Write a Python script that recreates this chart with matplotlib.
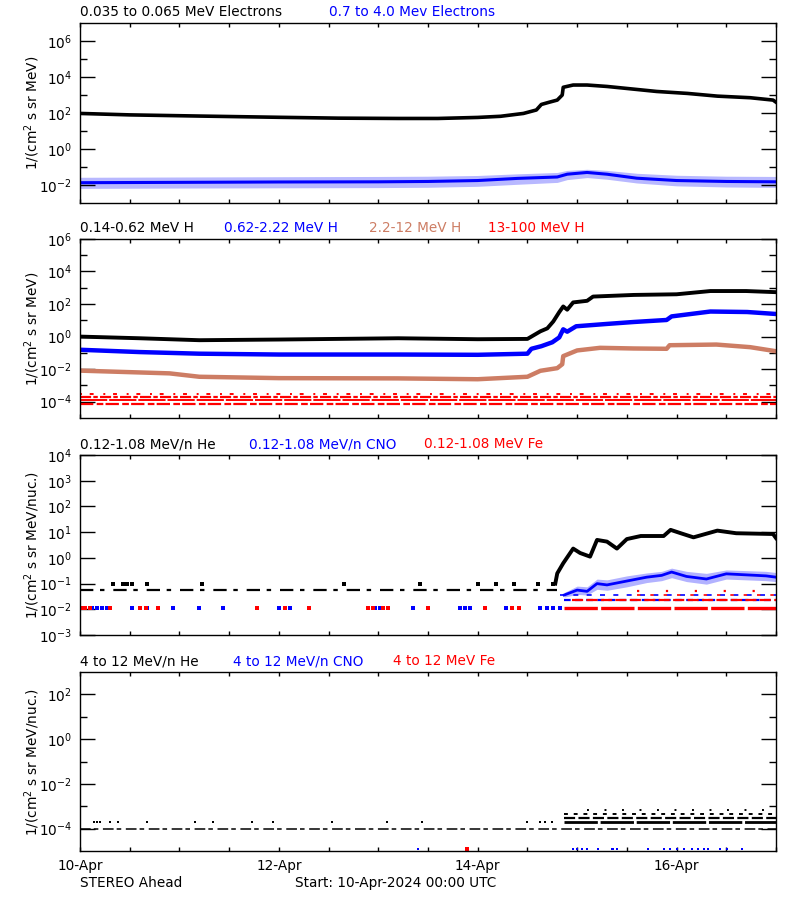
import matplotlib
matplotlib.use('Agg')
import matplotlib.pyplot as plt
from matplotlib.ticker import FixedLocator, FuncFormatter, NullFormatter
import numpy as np

# time axis: days after 10-Apr-2024 00:00 UTC
day_ticks = [0, 2, 4, 6]
day_labels = ['10-Apr', '12-Apr', '14-Apr', '16-Apr']

# ---- panel 1 : electrons
t_elo = [0, 0.5, 1.2, 2.0, 2.6, 3.2, 3.6, 4.0, 4.23, 4.46, 4.59, 4.64, 4.72, 4.80, 4.85,
         4.86, 4.96, 5.10, 5.30, 5.56, 5.80, 6.11, 6.41, 6.74, 6.97, 7.0]
f_elo = [95, 79, 68, 58, 52, 50, 50, 57, 66, 95, 148, 300, 400, 525, 1000,
         2700, 3600, 3600, 3000, 2150, 1580, 1230, 870, 710, 525, 400]
t_ehi = [0, 1, 2, 3, 3.5, 4.0, 4.4, 4.8, 4.9, 5.1, 5.3, 5.6, 6.0, 6.5, 7.0]
f_ehi = [0.0135, 0.0141, 0.0148, 0.0151, 0.0158, 0.0178, 0.0234, 0.028, 0.040, 0.050,
         0.040, 0.024, 0.0178, 0.0158, 0.0151]
f_ehi_top = [0.027, 0.028, 0.029, 0.030, 0.031, 0.034, 0.042, 0.050, 0.065, 0.075,
             0.065, 0.045, 0.035, 0.031, 0.030]
f_ehi_bot = [0.0065, 0.0068, 0.0070, 0.0072, 0.0075, 0.0085, 0.011, 0.014, 0.020, 0.026,
             0.021, 0.013, 0.009, 0.0078, 0.0074]

# ---- panel 2 : protons
t_h1 = [0, 0.6, 1.2, 2.0, 3.2, 4.0, 4.5, 4.63, 4.70, 4.76, 4.82, 4.86, 4.90, 4.96,
        5.10, 5.16, 5.57, 6.0, 6.34, 6.7, 7.0]
f_h1 = [1.0, 0.79, 0.60, 0.66, 0.79, 0.69, 0.72, 2.1, 3.2, 8.5, 32, 71, 45, 126,
        158, 288, 363, 398, 630, 630, 537]
t_h2 = [0, 0.6, 1.2, 2.0, 3.2, 4.0, 4.5, 4.54, 4.64, 4.75, 4.82, 4.86, 4.90, 4.99,
        5.3, 5.57, 5.9, 5.95, 6.34, 6.71, 7.0]
f_h2 = [0.155, 0.112, 0.089, 0.079, 0.079, 0.076, 0.089, 0.178, 0.257, 0.447, 0.89,
        2.8, 2.0, 4.3, 6.0, 7.9, 10.5, 17.4, 34.7, 32.4, 24.5]
t_h3 = [0, 0.9, 1.2, 2.0, 3.2, 4.0, 4.5, 4.63, 4.8, 4.85, 4.86, 5.0, 5.23, 5.57,
        5.9, 5.93, 6.4, 6.74, 7.0]
f_h3 = [0.0081, 0.0055, 0.0034, 0.0028, 0.0027, 0.0024, 0.0034, 0.0079, 0.0115, 0.020,
        0.063, 0.141, 0.204, 0.186, 0.178, 0.295, 0.324, 0.224, 0.126]
h4_levels = [3.1e-4, 1.9e-4, 1.2e-4, 6.9e-5]

# ---- panel 3 : low energy heavy ions
t_he_lo = [4.78, 4.80, 4.86, 4.96, 5.03, 5.13, 5.20, 5.30, 5.40, 5.50, 5.64, 5.87,
           5.94, 6.05, 6.17, 6.41, 6.6, 6.97, 7.0]
f_he_lo = [0.1, 0.25, 0.62, 2.3, 1.55, 1.12, 5.0, 4.3, 2.3, 5.4, 7.1, 7.1,
           12.3, 8.9, 6.3, 11.5, 9.1, 8.5, 5.9]
he_lo_base = 0.054
t_he_lo_spk = [0.33, 0.43, 0.47, 0.52, 0.67, 1.23, 2.66, 3.42, 4.00, 4.18, 4.36, 4.61, 4.76]
f_he_lo_spk = [0.1] * len(t_he_lo_spk)
t_cno_lo = [4.87, 5.0, 5.1, 5.2, 5.3, 5.5, 5.7, 5.85, 5.95, 6.1, 6.3, 6.5, 6.7, 6.9, 7.0]
f_cno_lo = [0.036, 0.056, 0.05, 0.1, 0.089, 0.126, 0.178, 0.209, 0.282, 0.19,
            0.151, 0.24, 0.219, 0.2, 0.178]
f_cno_lo_top = [0.045, 0.08, 0.075, 0.15, 0.14, 0.2, 0.26, 0.3, 0.4, 0.3,
                0.25, 0.34, 0.32, 0.3, 0.27]
f_cno_lo_bot = [0.03, 0.038, 0.036, 0.06, 0.055, 0.075, 0.11, 0.13, 0.17, 0.12,
                0.095, 0.15, 0.14, 0.13, 0.12]
t_cno_lo_pre = [0.12, 0.17, 0.22, 0.27, 0.52, 0.67, 0.94, 1.2, 1.44, 2.0, 2.11, 2.97,
                3.02, 3.35, 3.82, 3.87, 3.92, 4.28, 4.63, 4.70, 4.76, 4.83]
t_fe_lo_pre = [0.01, 0.05, 0.1, 0.3, 0.6, 0.66, 0.78, 1.78, 2.06, 2.3, 2.9, 2.95,
               3.05, 3.1, 3.5, 4.07, 4.34, 4.42]
lo_cnt = 0.011
fe_lo_levels = [0.011, 0.023, 0.036, 0.05]
cno_lo_levels = [0.023, 0.036]

# ---- panel 4 : high energy heavy ions
he_hi_base = 1.0e-4
t_he_hi_pre = [0.14, 0.17, 0.2, 0.3, 0.38, 0.67, 1.16, 1.34, 1.73, 1.94, 2.53, 3.09,
               3.44, 4.5, 4.63, 4.68, 4.75]
he_hi_levels = [1.9e-4, 2.9e-4, 4.5e-4, 6.8e-4]
t_cno_hi = [3.40, 4.96, 5.0, 5.05, 5.1, 5.21, 5.35, 5.36, 5.4, 5.71, 5.87, 5.93, 6.0,
            6.07, 6.16, 6.22, 6.28, 6.32, 6.44, 6.51, 6.66]
t_fe_hi = [3.89]
hi_cnt = 1.2e-5

brown = '#cd7d64'
onset = 4.87
t_end = 7.0

fig = plt.figure(figsize=(8, 9), dpi=100)
fs = 9.8


def style(ax, ylim, majors, minors, ylabel):
    ax.set_xlim(0, t_end)
    ax.set_yscale('log')
    ax.set_ylim(*ylim)
    ax.yaxis.set_major_locator(FixedLocator(majors))
    ax.yaxis.set_minor_locator(FixedLocator(minors))
    ax.yaxis.set_major_formatter(FuncFormatter(lambda v, p: r'$10^{%d}$' % round(np.log10(v))))
    ax.yaxis.set_minor_formatter(NullFormatter())
    ax.tick_params(axis='y', which='major', direction='in', length=11, width=1,
                   right=True, labelsize=fs, pad=6)
    ax.tick_params(axis='y', which='minor', direction='in', length=5, width=1, right=True)
    ax.xaxis.set_major_locator(FixedLocator(day_ticks))
    ax.xaxis.set_minor_locator(FixedLocator(np.arange(0, 7.01, 0.5)))
    ax.tick_params(axis='x', which='both', direction='in', length=3, width=1, top=True,
                   labelsize=fs, pad=5.5)
    ax.set_xticklabels([])
    for s in ax.spines.values():
        s.set_linewidth(1.0)
    ax.set_ylabel(ylabel, fontsize=fs)
    ax.yaxis.set_label_coords(-0.055, 0.5)


def head(ax, items):
    for off, txt, col in items:
        ax.annotate(txt, xy=(0, 1), xycoords='axes fraction', xytext=(off, 4),
                    textcoords='offset pixels', color=col, fontsize=fs, va='bottom', ha='left')


def counts(ax, t, level, col, ms=2.2):
    ax.plot(t, [level] * len(t), 's', color=col, ms=ms, mew=0)


def band(ax, level, t0, col, dash, lw=1.6):
    ax.hlines(level, t0, t_end, colors=col, linestyles=[dash], lw=lw)


lab_e = '1/(cm$^2$ s sr MeV)'
lab_n = '1/(cm$^2$ s sr MeV/nuc.)'

# panel 1
ax1 = fig.add_axes([0.1, 0.7744, 0.87, 0.2])
style(ax1, (1e-3, 1e7), [1e-2, 1, 1e2, 1e4, 1e6], [1e-1, 1e1, 1e3, 1e5], lab_e)
ax1.fill_between(t_ehi, f_ehi_bot, f_ehi_top, color='blue', alpha=0.28, lw=0)
ax1.plot(t_ehi, f_ehi, color='blue', lw=2.2)
ax1.plot(t_elo, f_elo, color='black', lw=2.6)
head(ax1, [(0, '0.035 to 0.065 MeV Electrons', 'black'),
           (249, '0.7 to 4.0 Mev Electrons', 'blue')])

# panel 2
ax2 = fig.add_axes([0.1, 0.5356, 0.87, 0.1989])
style(ax2, (1e-5, 1e6), [1e-4, 1e-2, 1, 1e2, 1e4, 1e6], [1e-3, 1e-1, 1e1, 1e3, 1e5], lab_e)
band(ax2, h4_levels[0], 0, 'red', (0, (1, 4, 2, 5)), lw=1.4)
band(ax2, h4_levels[1], 0, 'red', (0, (5, 1, 2, 1)), lw=1.6)
band(ax2, h4_levels[2], 0, 'red', (0, (14, 1)), lw=1.4)
band(ax2, h4_levels[3], 0, 'red', (0, (6, 1.5, 3, 1)), lw=1.6)
ax2.plot(t_h3, f_h3, color=brown, lw=3.2)
ax2.plot(t_h2, f_h2, color='blue', lw=3.2)
ax2.plot(t_h1, f_h1, color='black', lw=2.8)
head(ax2, [(0, '0.14-0.62 MeV H', 'black'), (144, '0.62-2.22 MeV H', 'blue'),
           (289, '2.2-12 MeV H', brown), (408, '13-100 MeV H', 'red')])

# panel 3
ax3 = fig.add_axes([0.1, 0.2944, 0.87, 0.2])
style(ax3, (1e-3, 1e4), [1e-3, 1e-2, 1e-1, 1, 1e1, 1e2, 1e3, 1e4], [], lab_n)
ax3.hlines(he_lo_base, 0, 4.8, colors='black', linestyles=[(0, (6, 3, 2, 4))], lw=1.6)
counts(ax3, t_he_lo_spk, 0.1, 'black')
counts(ax3, t_cno_lo_pre, lo_cnt, 'blue')
counts(ax3, t_fe_lo_pre, lo_cnt, 'red')
band(ax3, fe_lo_levels[0], onset, 'red', (0, (10, 1)), lw=2.4)
band(ax3, cno_lo_levels[0], onset, 'blue', (0, (3, 2)), lw=1.6)
band(ax3, fe_lo_levels[1], 4.95, 'red', (0, (5, 1.5)), lw=1.6)
band(ax3, cno_lo_levels[1], 4.83, 'blue', (0, (3, 5)), lw=1.2)
band(ax3, fe_lo_levels[2], 5.6, 'red', (0, (2, 6)), lw=1.2)
band(ax3, fe_lo_levels[3], 5.6, 'red', (0, (1, 12)), lw=1.6)
ax3.fill_between(t_cno_lo, f_cno_lo_bot, f_cno_lo_top, color='blue', alpha=0.3, lw=0)
ax3.plot(t_cno_lo, f_cno_lo, color='blue', lw=2.0)
ax3.plot(t_he_lo, f_he_lo, color='black', lw=2.8)
head(ax3, [(0, '0.12-1.08 MeV/n He', 'black'), (169, '0.12-1.08 MeV/n CNO', 'blue'),
           (344, '0.12-1.08 MeV Fe', 'red')])

# panel 4
ax4 = fig.add_axes([0.1, 0.0544, 0.87, 0.1989])
style(ax4, (1e-5, 1e3), [1e-4, 1e-2, 1, 1e2], [1e-3, 1e-1, 1e1], lab_n)
ax4.hlines(he_hi_base, 0, t_end, colors='black', linestyles=[(0, (7, 2, 3, 3))], lw=1.1)
counts(ax4, t_he_hi_pre, he_hi_levels[0], 'black', ms=2)
band(ax4, he_hi_levels[0], onset, 'black', (0, (12, 1)), lw=2.0)
band(ax4, he_hi_levels[1], onset, 'black', (0, (5, 1.5)), lw=1.6)
band(ax4, he_hi_levels[2], onset, 'black', (0, (2, 3)), lw=1.4)
band(ax4, he_hi_levels[3], 5.1, 'black', (0, (1, 8)), lw=1.4)
counts(ax4, t_cno_hi, hi_cnt, 'blue', ms=2)
counts(ax4, t_fe_hi, hi_cnt, 'red', ms=2.4)
head(ax4, [(0, '4 to 12 MeV/n He', 'black'), (153, '4 to 12 MeV/n CNO', 'blue'),
           (313, '4 to 12 MeV Fe', 'red')])
ax4.set_xticklabels(day_labels)

fig.text(0.1, 0.0185, 'STEREO Ahead', fontsize=fs, va='center', ha='left')
fig.text(0.369, 0.0185, 'Start: 10-Apr-2024 00:00 UTC', fontsize=fs, va='center', ha='left')

fig.savefig('out.png', dpi=100)
